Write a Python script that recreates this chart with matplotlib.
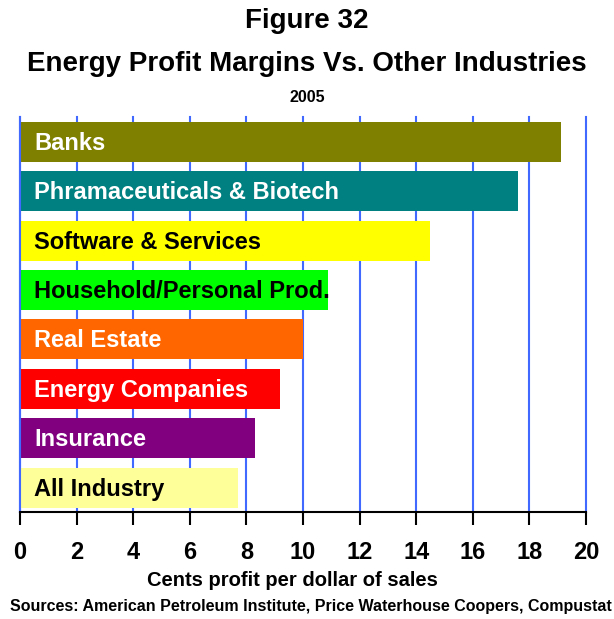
import matplotlib
matplotlib.use('Agg')
import matplotlib.pyplot as plt

# industries, top to bottom
industries = ['Banks', 'Phramaceuticals & Biotech', 'Software & Services',
              'Household/Personal Prod.', 'Real Estate', 'Energy Companies',
              'Insurance', 'All Industry']
margins = [19.1, 17.6, 14.5, 10.9, 10.0, 9.2, 8.3, 7.7]
bar_colors = ['#808000', '#008080', '#FFFF00', '#00FF00',
              '#FF6600', '#FF0000', '#800080', '#FFFF99']
text_colors = ['white', 'white', 'black', 'black',
               'white', 'white', 'white', 'black']
ticks = list(range(0, 21, 2))

plt.rcParams['font.family'] = ['Liberation Sans', 'DejaVu Sans']

fig = plt.figure(figsize=(6.14, 6.19), dpi=100)
ax = fig.add_axes([20/614, 1 - 512/619, 566/614, 395/619])

ypos = list(range(len(industries)))
ax.barh(ypos, margins, height=0.81, color=bar_colors, zorder=2)

for y, name, tc in zip(ypos, industries, text_colors):
    ax.text(0.5, y + 0.03, name, color=tc, fontsize=17, fontweight='bold',
            va='center', ha='left', zorder=3)

ax.set_xlim(0, 20)
ax.set_ylim(7.49, -0.5)
ax.set_yticks([])
ax.set_xticks(ticks)
ax.set_xticklabels([str(t) for t in ticks], fontsize=17, fontweight='bold',
                   family=['Liberation Sans Narrow', 'Liberation Sans'])
ax.tick_params(axis='x', length=9, width=1.5, color='black', pad=12)
ax.grid(axis='x', color='#4169FF', linewidth=1.5, zorder=0)
for gl in ax.get_xgridlines():
    gl.set_clip_on(False)
ax.set_axisbelow(True)

for s in ['top', 'right']:
    ax.spines[s].set_visible(False)
ax.spines['left'].set_color('#4169FF')
ax.spines['left'].set_linewidth(1.5)
ax.spines['bottom'].set_linewidth(1.5)

ax.set_xlabel('Cents profit per dollar of sales', fontsize=14.5,
              fontweight='bold')
ax.xaxis.set_label_coords((292 - 20) / 566, -(580 - 512) / 395, transform=ax.transAxes)
ax.xaxis.label.set_va('center')

fig.text(0.5, 1 - 21/619, 'Figure 32', ha='center', va='center',
         fontsize=20, fontweight='bold')
fig.text(0.5, 1 - 64/619, 'Energy Profit Margins Vs. Other Industries',
         ha='center', va='center', fontsize=20, fontweight='bold')
fig.text(0.5, 1 - 97/619, '2005', ha='center', va='center',
         fontsize=11.5, fontweight='bold')
fig.text(10/614, 1 - 607/619,
         'Sources: American Petroleum Institute, Price Waterhouse Coopers, Compustat',
         ha='left', va='center', fontsize=11.5, fontweight='bold')

fig.savefig('out.png', dpi=100)
